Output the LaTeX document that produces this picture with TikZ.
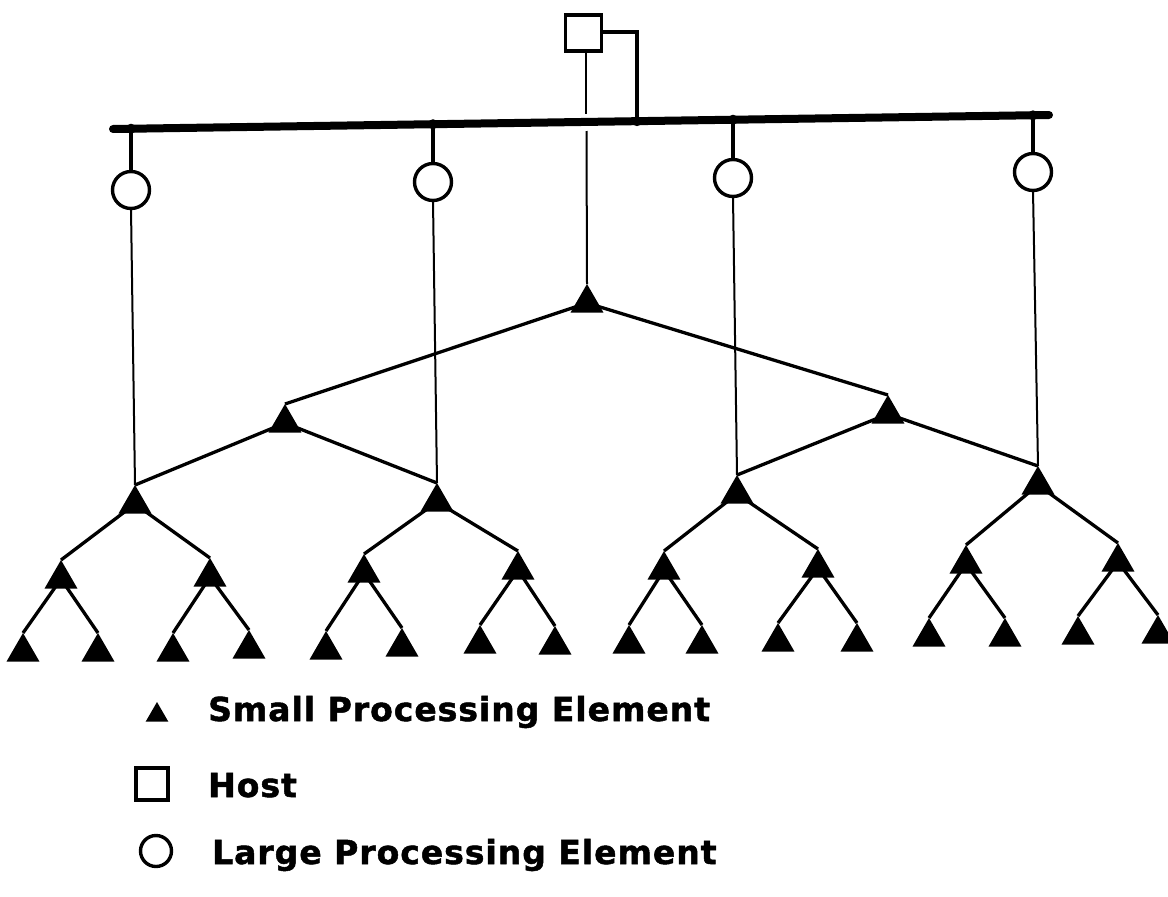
\documentclass[tikz,border=0pt]{standalone}
\usepackage{fontspec}
\setmainfont{DejaVu Sans}
\newfontfamily\legendfont{DejaVu Sans}[LetterSpace=3, BoldFeatures={FakeBold=1.5, LetterSpace=3}]
\usetikzlibrary{shapes.geometric}
\begin{document}
\begin{tikzpicture}[x=1pt,y=-1pt,
 pe/.style={regular polygon, regular polygon sides=3, fill=black, minimum size=38pt, inner sep=0pt, outer sep=0pt, anchor=corner 1},
 lpe/.style={circle, draw, line width=3.4pt, minimum size=37pt, inner sep=0pt, outer sep=0pt},
 hostbox/.style={rectangle, draw, line width=3.2pt, minimum size=36pt, inner sep=0pt, outer sep=0pt},
 treeedge/.style={line width=3.3pt},
 thinline/.style={line width=2pt},
 busline/.style={line width=8pt, line cap=round},
 stub/.style={line width=4pt},
 junction/.style={circle, fill=black, minimum size=10pt, inner sep=0pt},
 lbl/.style={anchor=base west, font=\legendfont\bfseries\fontsize{33}{40}\selectfont, inner sep=0pt}
]
\useasboundingbox (0,0) rectangle (1168,897);

% host
\node[hostbox] (host) at (583.5,33) {};

% bus
\coordinate (busL) at (113,129);
\coordinate (busR) at (1049,115);
\draw[busline] (busL) -- (busR);
\coordinate (j1) at (131,128.7);
\coordinate (j2) at (433,124.2);
\coordinate (j3) at (733,119.7);
\coordinate (j4) at (1033,115.3);
\coordinate (jh) at (637,121.2);
\foreach \j in {j1,j2,j3,j4,jh} \node[junction] at (\j) {};

% host connections
\coordinate (hc) at (637,32);
\draw[stub] (host.east |- hc) -- (hc) -- (jh);
\coordinate (gapTop) at (586,114);
\coordinate (gapBot) at (586.5,131);

% large PEs
\node[lpe] (c1) at (131,190) {};
\node[lpe] (c2) at (433,182) {};
\node[lpe] (c3) at (733,178) {};
\node[lpe] (c4) at (1033,172) {};
\foreach \i in {1,2,3,4} \draw[stub] (j\i) -- (c\i.north);

% small PEs (tree)
\node[pe] (r) at (587,284) {};
\node[pe] (a) at (285,404) {};
\node[pe] (b) at (888,395) {};
\node[pe] (aa) at (135,485) {};
\node[pe] (ab) at (437,483) {};
\node[pe] (ba) at (737,475) {};
\node[pe] (bb) at (1038,466) {};
\node[pe] (aaa) at (61,560) {};
\node[pe] (aab) at (210,558) {};
\node[pe] (aba) at (364,554) {};
\node[pe] (abb) at (518,551) {};
\node[pe] (baa) at (664,551) {};
\node[pe] (bab) at (818,549) {};
\node[pe] (bba) at (966,545) {};
\node[pe] (bbb) at (1118,543) {};
\node[pe] (l1) at (23,633) {};
\node[pe] (l2) at (98,633) {};
\node[pe] (l3) at (173,633) {};
\node[pe] (l4) at (249,630) {};
\node[pe] (l5) at (326,631) {};
\node[pe] (l6) at (402,628) {};
\node[pe] (l7) at (480,625) {};
\node[pe] (l8) at (555,626) {};
\node[pe] (l9) at (629,625) {};
\node[pe] (l10) at (702,625) {};
\node[pe] (l11) at (778,623) {};
\node[pe] (l12) at (857,623) {};
\node[pe] (l13) at (929,618) {};
\node[pe] (l14) at (1005,618) {};
\node[pe] (l15) at (1078,616) {};
\node[pe] (l16) at (1158,615) {};

% host line to root, crossing the bus without joining it
\draw[thinline] (gapTop |- host.south) -- (gapTop);
\draw[thinline] (gapBot) -- (r.corner 1);

% circles down to level-2 PEs
\draw[thinline] (c1.south) -- (aa.corner 1);
\draw[thinline] (c2.south) -- (ab.corner 1);
\draw[thinline] (c3.south) -- (ba.corner 1);
\draw[thinline] (c4.south) -- (bb.corner 1);

% tree edges
\foreach \p/\c in {r/a, r/b, a/aa, a/ab, b/ba, b/bb,
  aa/aaa, aa/aab, ab/aba, ab/abb, ba/baa, ba/bab, bb/bba, bb/bbb,
  aaa/l1, aaa/l2, aab/l3, aab/l4, aba/l5, aba/l6, abb/l7, abb/l8,
  baa/l9, baa/l10, bab/l11, bab/l12, bba/l13, bba/l14, bbb/l15, bbb/l16}
  \draw[treeedge] (\p.center) -- (\c.corner 1);

% legend
\node[pe, minimum size=26pt] (legpe) at (157,702) {};
\node[hostbox, minimum width=32pt, minimum height=32pt] (leghost) at (152,784) {};
\node[lpe, minimum size=31pt] (leglpe) at (156,851) {};
\node[lbl] (t1) at (208,721) {Small Processing Element};
\node[lbl] (t2) at (208,797) {Host};
\node[lbl] (t3) at (212,864) {Large Processing Element};
\end{tikzpicture}
\end{document}
